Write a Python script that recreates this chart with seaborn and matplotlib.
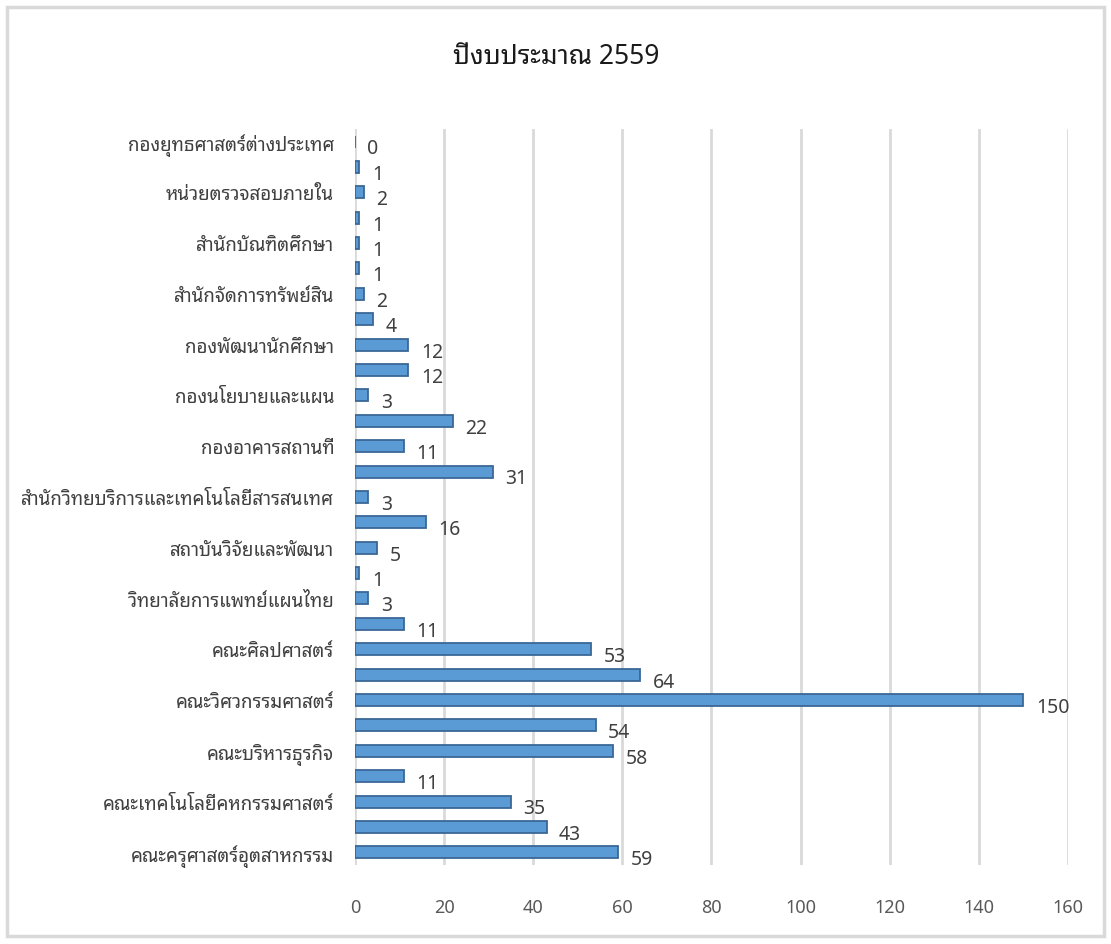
import matplotlib
matplotlib.use('Agg')
import matplotlib.pyplot as plt
import matplotlib.patches as mpatches
import seaborn as sns
import pandas as pd

# top to bottom, '' = bar without a category label in the original
labels = ['กองยุทธศาสตร์ต่างประเทศ', '', 'หน่วยตรวจสอบภายใน', '', 'สำนักบัณฑิตศึกษา', '',
          'สำนักจัดการทรัพย์สิน', '', 'กองพัฒนานักศึกษา', '', 'กองนโยบายและแผน', '',
          'กองอาคารสถานที่', '', 'สำนักวิทยบริการและเทคโนโลยีสารสนเทศ', '',
          'สถาบันวิจัยและพัฒนา', '', 'วิทยาลัยการแพทย์แผนไทย', '', 'คณะศิลปศาสตร์', '',
          'คณะวิศวกรรมศาสตร์', '', 'คณะบริหารธุรกิจ', '', 'คณะเทคโนโลยีคหกรรมศาสตร์', '',
          'คณะครุศาสตร์อุตสาหกรรม']
values = [0, 1, 2, 1, 1, 1, 2, 4, 12, 12, 3, 22, 11, 31, 3, 16, 5, 1, 3, 11,
          53, 64, 150, 54, 58, 11, 35, 43, 59]
xticks = [0, 20, 40, 60, 80, 100, 120, 140, 160]
title = 'ปีงบประมาณ 2559'

df = pd.DataFrame({'pos': list(range(len(values))), 'value': values})

sns.set_style('white')
plt.rcParams['font.family'] = ['Noto Sans Thai Looped', 'DejaVu Sans']

fig = plt.figure(figsize=(11.11, 9.45), dpi=100)
ax = fig.add_axes([0.3195, 0.0836, 0.6418, 0.779])

# grid first so bars sit on top
for t in xticks:
    ax.axvline(t, color='#d9d9d9', lw=2, zorder=0)

sns.barplot(data=df, x='value', y='pos', orient='h', color='#5b9bd5',
            width=0.47, edgecolor='#3a6896', linewidth=1.3, saturation=1,
            ax=ax, zorder=3)

ax.set_xlim(0, 160)
ax.set_ylim(len(values) - 0.5, -0.5)
ax.set_xticks(xticks)
ax.set_xticklabels([str(t) for t in xticks], fontsize=13, color='#595959')
ax.set_yticks(range(len(labels)))
ax.set_yticklabels(labels, fontsize=13.5, color='#404040')
ax.tick_params(axis='x', length=0, pad=24)
ax.tick_params(axis='y', length=0, pad=15)
ax.set_xlabel('')
ax.set_ylabel('')
for s in ax.spines.values():
    s.set_visible(False)

for i, v in enumerate(values):
    ax.annotate(str(v), (v, i), xytext=(9, -5), textcoords='offset points',
                ha='left', va='center', fontsize=14, color='#404040')

fig.text(0.501, 0.94, title, ha='center', va='center', fontsize=19,
         fontweight='semibold', color='#1a1a1a')

fig.patches.append(mpatches.Rectangle((7 / 1111, 8 / 945), 1097 / 1111, 929 / 945,
                                      transform=fig.transFigure, fill=False,
                                      edgecolor='#d9d9d9', lw=2.5))

fig.savefig('out.png', dpi=100)
